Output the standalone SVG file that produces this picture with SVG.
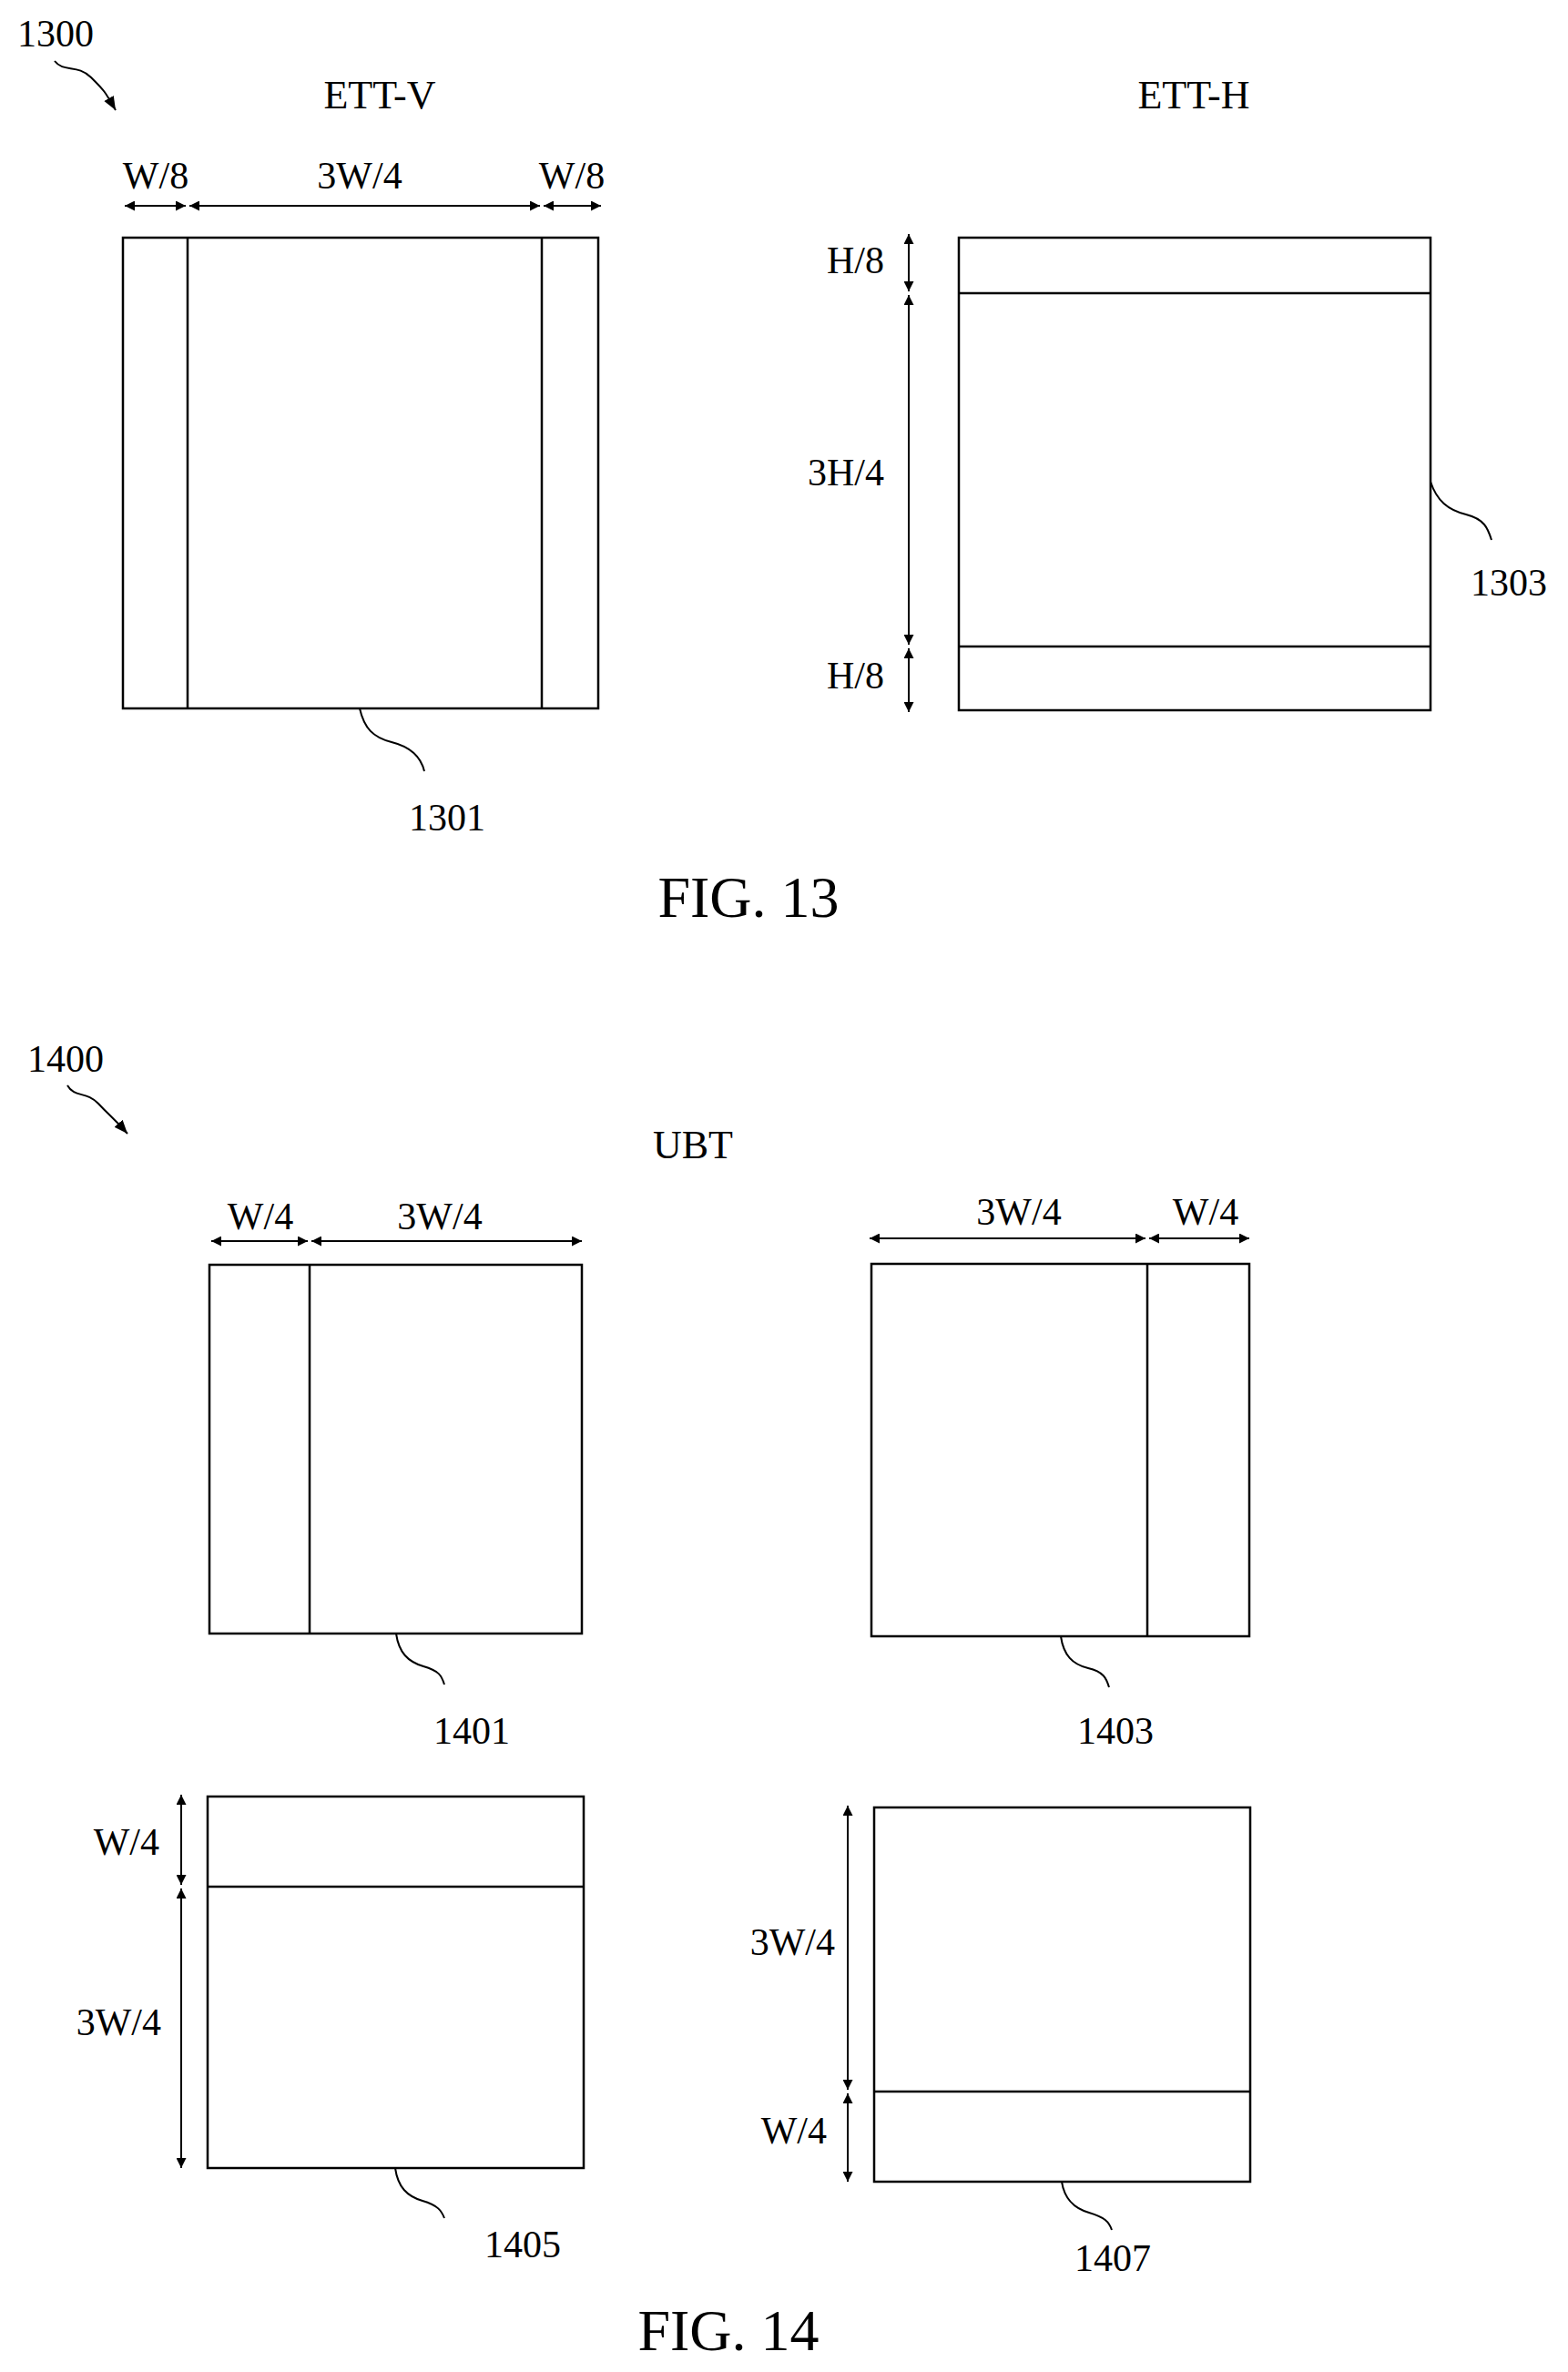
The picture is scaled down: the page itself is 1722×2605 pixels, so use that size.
<svg xmlns="http://www.w3.org/2000/svg" width="1722" height="2605" viewBox="0 0 1722 2605">
<style>
text{font-family:"Liberation Serif","Times New Roman",serif;fill:#000}
.l{font-size:42px}
.t{font-size:44px}
.f{font-size:64px}
.box{fill:none;stroke:#000;stroke-width:2.5}
.dim{fill:none;stroke:#000;stroke-width:2;marker-start:url(#ah);marker-end:url(#ah)}
.lead{fill:none;stroke:#000;stroke-width:2}
</style>
<defs>
<marker id="ah" viewBox="0 0 10 10" refX="10" refY="5" markerWidth="11" markerHeight="11" markerUnits="userSpaceOnUse" orient="auto-start-reverse"><path d="M0,0L10,5L0,10z" fill="#000"/></marker>
<marker id="ah2" viewBox="0 0 10 10" refX="10" refY="5" markerWidth="15" markerHeight="15" markerUnits="userSpaceOnUse" orient="auto"><path d="M0,1L10,5L0,9z" fill="#000"/></marker>
</defs>
<rect width="1722" height="2605" fill="#fff"/>

<g id="fig13">
<text class="l" x="19" y="51">1300</text>
<text class="t" x="417" y="119" text-anchor="middle">ETT-V</text>
<text class="t" x="1311" y="119" text-anchor="middle">ETT-H</text>
<text class="f" x="822" y="1007" text-anchor="middle">FIG. 13</text>
</g>

<g id="n1301">
<rect class="box" x="135" y="261" width="522" height="517"/>
<line class="box" x1="206" y1="261" x2="206" y2="778"/>
<line class="box" x1="595" y1="261" x2="595" y2="778"/>
<text class="l" x="171" y="207" text-anchor="middle">W/8</text>
<text class="l" x="395" y="207" text-anchor="middle">3W/4</text>
<text class="l" x="628" y="207" text-anchor="middle">W/8</text>
<text class="l" x="491" y="912" text-anchor="middle">1301</text>
</g>

<g id="n1303">
<rect class="box" x="1053" y="261" width="518" height="519"/>
<line class="box" x1="1053" y1="322" x2="1571" y2="322"/>
<line class="box" x1="1053" y1="710" x2="1571" y2="710"/>
<text class="l" x="971" y="300" text-anchor="end">H/8</text>
<text class="l" x="971" y="533" text-anchor="end">3H/4</text>
<text class="l" x="971" y="756" text-anchor="end">H/8</text>
<text class="l" x="1657" y="654" text-anchor="middle">1303</text>
</g>

<g id="fig14">
<text class="l" x="30" y="1177">1400</text>
<text class="t" x="761" y="1272" text-anchor="middle">UBT</text>
<text class="f" x="800" y="2581" text-anchor="middle">FIG. 14</text>
</g>

<g id="n1401">
<rect class="box" x="230" y="1389" width="409" height="405"/>
<line class="box" x1="340" y1="1389" x2="340" y2="1794"/>
<text class="l" x="286" y="1350" text-anchor="middle">W/4</text>
<text class="l" x="483" y="1350" text-anchor="middle">3W/4</text>
<text class="l" x="518" y="1915" text-anchor="middle">1401</text>
</g>

<g id="n1403">
<rect class="box" x="957" y="1388" width="415" height="409"/>
<line class="box" x1="1260" y1="1388" x2="1260" y2="1797"/>
<text class="l" x="1119" y="1345" text-anchor="middle">3W/4</text>
<text class="l" x="1324" y="1345" text-anchor="middle">W/4</text>
<text class="l" x="1225" y="1915" text-anchor="middle">1403</text>
</g>

<g id="n1405">
<rect class="box" x="228" y="1973" width="413" height="408"/>
<line class="box" x1="228" y1="2072" x2="641" y2="2072"/>
<text class="l" x="175" y="2037" text-anchor="end">W/4</text>
<text class="l" x="177" y="2235" text-anchor="end">3W/4</text>
<text class="l" x="574" y="2479" text-anchor="middle">1405</text>
</g>

<g id="n1407">
<rect class="box" x="960" y="1985" width="413" height="411"/>
<line class="box" x1="960" y1="2297" x2="1373" y2="2297"/>
<text class="l" x="917" y="2147" text-anchor="end">3W/4</text>
<text class="l" x="908" y="2354" text-anchor="end">W/4</text>
<text class="l" x="1222" y="2494" text-anchor="middle">1407</text>
</g>

<g id="connectors">
<path class="lead" d="M60,67 C70,80 85,70 100,85 S115,100 127,121" marker-end="url(#ah2)"/>
<path class="lead" d="M74,1192 C82,1206 95,1198 108,1212 S125,1228 140,1245" marker-end="url(#ah2)"/>
<line class="dim" x1="137" y1="226" x2="204" y2="226"/>
<line class="dim" x1="208" y1="226" x2="593" y2="226"/>
<line class="dim" x1="597" y1="226" x2="660" y2="226"/>
<line class="dim" x1="998" y1="257" x2="998" y2="320"/>
<line class="dim" x1="998" y1="324" x2="998" y2="708"/>
<line class="dim" x1="998" y1="712" x2="998" y2="782"/>
<line class="dim" x1="232" y1="1363" x2="338" y2="1363"/>
<line class="dim" x1="342" y1="1363" x2="639" y2="1363"/>
<line class="dim" x1="955" y1="1360" x2="1258" y2="1360"/>
<line class="dim" x1="1262" y1="1360" x2="1372" y2="1360"/>
<line class="dim" x1="199" y1="1971" x2="199" y2="2070"/>
<line class="dim" x1="199" y1="2074" x2="199" y2="2381"/>
<line class="dim" x1="931" y1="1983" x2="931" y2="2295"/>
<line class="dim" x1="931" y1="2299" x2="931" y2="2396"/>
<path class="lead" d="M395,778 C400,800 410,810 430,815 S462,830 466,847"/>
<path class="lead" d="M1571,529 C1578,550 1590,560 1610,565 S1634,580 1638,593"/>
<path class="lead" d="M435,1794 C438,1815 448,1825 465,1830 S485,1840 488,1850"/>
<path class="lead" d="M1165,1797 C1168,1818 1178,1828 1195,1832 S1215,1843 1218,1853"/>
<path class="lead" d="M434,2381 C437,2402 447,2412 464,2417 S485,2428 488,2436"/>
<path class="lead" d="M1166,2396 C1169,2415 1179,2425 1196,2430 S1218,2440 1221,2449"/>
</g>
</svg>
